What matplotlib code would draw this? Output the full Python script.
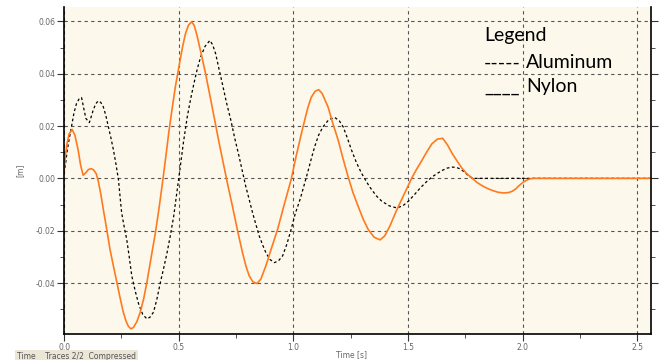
import numpy as np
import matplotlib
matplotlib.use("Agg")
import matplotlib.pyplot as plt
from matplotlib.ticker import MultipleLocator

# Nylon (orange, solid)
nylon_t = [0.0, 0.006, 0.013, 0.022, 0.035, 0.047, 0.061, 0.072, 0.083, 0.095, 0.106, 0.117,
           0.128, 0.14, 0.149, 0.16, 0.171, 0.185, 0.2, 0.215, 0.23, 0.245, 0.258, 0.27,
           0.28, 0.291, 0.302, 0.317, 0.332, 0.347, 0.361, 0.38, 0.398, 0.413, 0.427,
           0.442, 0.456, 0.47, 0.485, 0.503, 0.516, 0.529, 0.542, 0.556, 0.567, 0.58,
           0.598, 0.617, 0.635, 0.654, 0.675, 0.697, 0.715, 0.734, 0.756, 0.778, 0.793,
           0.807, 0.823, 0.841, 0.858, 0.88, 0.905, 0.931, 0.96, 0.99, 1.012, 1.034,
           1.05, 1.063, 1.078, 1.095, 1.11, 1.125, 1.14, 1.151, 1.172, 1.195, 1.215,
           1.238, 1.26, 1.282, 1.304, 1.326, 1.352, 1.378, 1.398, 1.421, 1.447, 1.472,
           1.494, 1.516, 1.538, 1.56, 1.583, 1.604, 1.628, 1.651, 1.672, 1.692, 1.714,
           1.735, 1.757, 1.779, 1.8, 1.823, 1.845, 1.867, 1.892, 1.918, 1.94, 1.955,
           1.97, 1.984, 2.0, 2.013, 2.028, 2.043, 2.56]
nylon_y = [0.0027, 0.009, 0.0134, 0.017, 0.0187, 0.0165, 0.0109, 0.005, 0.0012, 0.0022,
           0.0034, 0.0037, 0.0033, 0.0018, -0.0011, -0.006, -0.0119, -0.019, -0.0271,
           -0.0335, -0.0397, -0.046, -0.0511, -0.0545, -0.0565, -0.0575, -0.057, -0.0548,
           -0.0511, -0.046, -0.0397, -0.03, -0.0208, -0.012, -0.003, 0.0072, 0.0172,
           0.026, 0.0349, 0.0438, 0.05, 0.0552, 0.0585, 0.0598, 0.0585, 0.0545, 0.0475,
           0.04, 0.032, 0.0235, 0.014, 0.0046, -0.003, -0.0106, -0.0198, -0.0284,
           -0.0335, -0.0372, -0.0395, -0.0402, -0.0385, -0.0334, -0.0265, -0.0195,
           -0.01, -0.0005, 0.0085, 0.0168, 0.0225, 0.027, 0.031, 0.0333, 0.0339, 0.0325,
           0.0295, 0.0273, 0.021, 0.0147, 0.008, 0.0008, -0.0055, -0.0106, -0.0155,
           -0.0195, -0.0225, -0.0235, -0.022, -0.0182, -0.0128, -0.0081, -0.004, 0.0001,
           0.0036, 0.0068, 0.0103, 0.0132, 0.015, 0.0153, 0.0128, 0.0096, 0.0066, 0.0039,
           0.0017, 0.0001, -0.0015, -0.0028, -0.0038, -0.0046, -0.0053, -0.0056, -0.0054,
           -0.0049, -0.004, -0.0028, -0.0016, -0.0009, -0.0003, 0.0, 0.0]

# Aluminum (black, dashed)
alu_t = [0.0, 0.007, 0.013, 0.022, 0.032, 0.043, 0.054, 0.065, 0.076, 0.085, 0.095, 0.11,
         0.118, 0.127, 0.138, 0.149, 0.16, 0.171, 0.182, 0.193, 0.204, 0.215, 0.226,
         0.237, 0.244, 0.251, 0.262, 0.273, 0.284, 0.295, 0.31, 0.325, 0.343, 0.361,
         0.375, 0.39, 0.405, 0.42, 0.435, 0.449, 0.464, 0.478, 0.49, 0.503, 0.52, 0.537,
         0.551, 0.566, 0.58, 0.595, 0.615, 0.636, 0.648, 0.661, 0.675, 0.69, 0.708,
         0.727, 0.745, 0.763, 0.778, 0.792, 0.807, 0.822, 0.837, 0.851, 0.866, 0.88,
         0.898, 0.917, 0.935, 0.953, 0.972, 0.99, 1.008, 1.03, 1.047, 1.063, 1.078,
         1.093, 1.11, 1.129, 1.155, 1.18, 1.2, 1.217, 1.235, 1.253, 1.275, 1.297, 1.32,
         1.341, 1.363, 1.385, 1.418, 1.451, 1.477, 1.502, 1.528, 1.553, 1.578, 1.604,
         1.626, 1.648, 1.67, 1.692, 1.71, 1.728, 1.743, 1.758, 1.772, 1.787, 2.56]
alu_y = [0.002, 0.006, 0.0103, 0.015, 0.0197, 0.025, 0.0286, 0.0303, 0.0309, 0.027, 0.0229,
         0.0213, 0.0235, 0.0261, 0.0285, 0.0296, 0.029, 0.0273, 0.024, 0.0197, 0.0155,
         0.0109, 0.0055, -0.0005, -0.007, -0.0132, -0.0185, -0.0233, -0.03, -0.0372,
         -0.043, -0.048, -0.052, -0.0537, -0.053, -0.0511, -0.046, -0.0397, -0.034,
         -0.0284, -0.0215, -0.0144, -0.0065, 0.002, 0.0135, 0.0235, 0.03, 0.0362, 0.0415,
         0.0463, 0.0505, 0.0527, 0.051, 0.0476, 0.042, 0.0362, 0.029, 0.0223, 0.015,
         0.0084, 0.0025, -0.003, -0.008, -0.0132, -0.0178, -0.022, -0.0255, -0.0284,
         -0.031, -0.0322, -0.0315, -0.0296, -0.025, -0.0195, -0.0135, -0.0078, -0.0025,
         0.0025, 0.0075, 0.0122, 0.0165, 0.0197, 0.0225, 0.0233, 0.022, 0.0197, 0.0155,
         0.0109, 0.006, 0.002, -0.0015, -0.0043, -0.0068, -0.0087, -0.0105, -0.0113,
         -0.0105, -0.0087, -0.0062, -0.0037, -0.0015, 0.0005, 0.0018, 0.003, 0.0039,
         0.0043, 0.0042, 0.0036, 0.0026, 0.0014, 0.0005, 0.0, 0.0]

fig = plt.figure(figsize=(6.61, 3.6), dpi=100)
ax = fig.add_axes([0.097, 0.072, 0.888, 0.908])
ax.set_facecolor("#fdf8ec")

ax.plot(alu_t, alu_y, color="black", lw=0.9, dashes=(2.2, 2))
ax.plot(nylon_t, nylon_y, color="#ff7a1e", lw=1.2)

ax.set_xlim(0, 2.56)
ax.set_ylim(-0.0595, 0.0654)
ax.xaxis.set_major_locator(MultipleLocator(0.5))
ax.xaxis.set_minor_locator(MultipleLocator(0.25))
ax.yaxis.set_major_locator(MultipleLocator(0.02))
ax.yaxis.set_minor_locator(MultipleLocator(0.01))
ax.xaxis.set_major_formatter(plt.FuncFormatter(lambda v, p: f"{v:.1f}"))
ax.yaxis.set_major_formatter(plt.FuncFormatter(lambda v, p: f"{v:.2f}"))

ax.grid(True, which="major", color="#555555", lw=0.8, ls=(0, (3, 3)))
ax.spines["top"].set_visible(False)
for s in ["left", "bottom", "right"]:
    ax.spines[s].set_linewidth(1.2)
ax.tick_params(which="both", direction="out", labelsize=5.5, labelcolor="#666666",
               right=True, color="#333333", pad=1.5)
ax.tick_params(which="major", length=5)
ax.tick_params(which="minor", length=3)

ax.set_ylabel("[m]", fontsize=5.5, color="#666666", labelpad=8)
fig.text(0.532, 0.016, "Time [s]", fontsize=5.5, color="#666666", ha="center", va="center")

fig.text(0.026, -0.004, "Time    Traces 2/2  Compressed", fontsize=5.5, color="#555555",
         ha="left", va="bottom",
         bbox=dict(facecolor="#ebe6d6", edgecolor="none", pad=1.5))

# hand-written legend
lfont = dict(family="Lato", fontsize=14, color="black")
ax.text(0.7155, 0.914, "Legend", transform=ax.transAxes, ha="left", va="center", **lfont)
ax.text(0.7155, 0.83, "-----", transform=ax.transAxes, ha="left", va="center", **lfont)
ax.text(0.787, 0.83, "Aluminum", transform=ax.transAxes, ha="left", va="center", **lfont)
ax.text(0.7155, 0.757, "____", transform=ax.transAxes, ha="left", va="center", **lfont)
ax.text(0.787, 0.757, "Nylon", transform=ax.transAxes, ha="left", va="center", **lfont)

fig.savefig("out.png", dpi=100)
